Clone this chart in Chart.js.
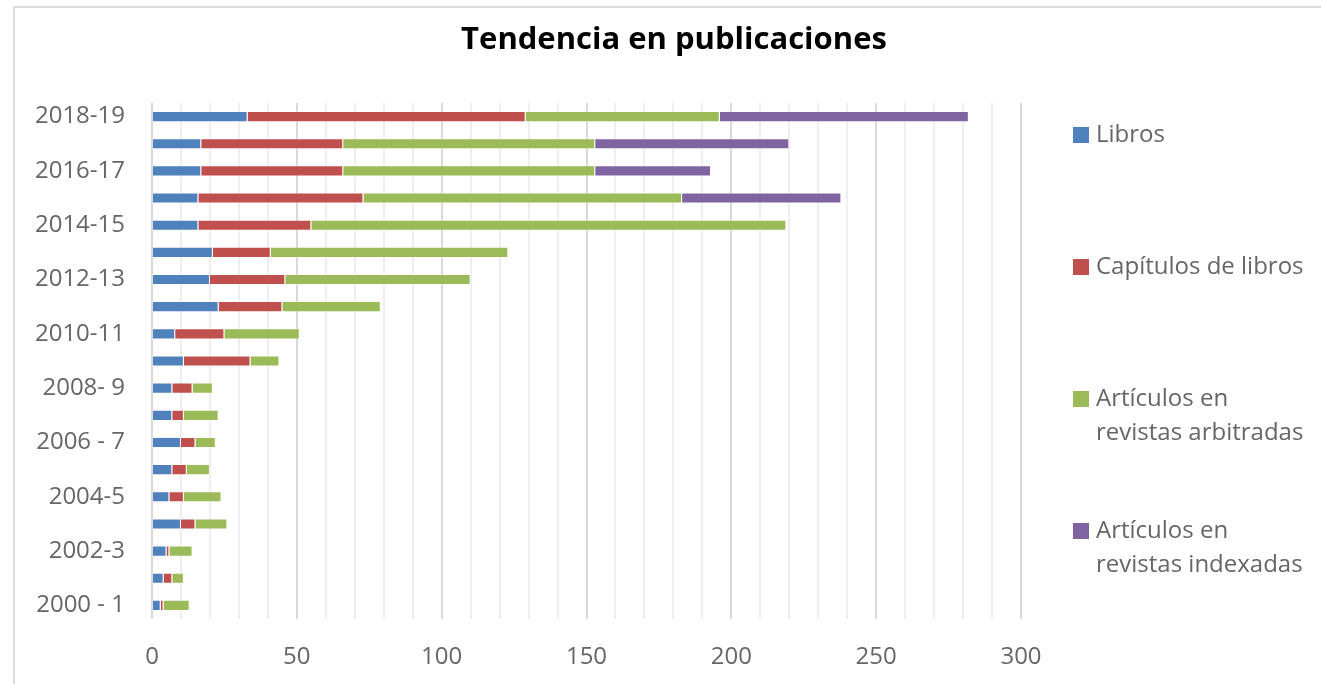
<!DOCTYPE html>
<html>
<head>
<meta charset="utf-8">
<script src="https://cdn.jsdelivr.net/npm/chart.js@4"></script>
<style>
body{margin:0;background:#fff;font-family:"Open Sans",sans-serif;}
#caja{position:relative;width:1321px;height:684px;overflow:hidden;}
#marco{position:absolute;left:13px;top:6px;width:1400px;height:800px;border-left:2px solid #dcdcdc;border-top:2px solid #dcdcdc;}
#titulo{position:absolute;left:0;width:1348px;top:16px;text-align:center;font-weight:bold;font-size:31px;color:#000;}
.ley{position:absolute;left:1073px;font-size:24px;color:#666;line-height:34px;}
.ley span{display:inline-block;width:16px;height:16px;margin-right:7px;vertical-align:-1px;}
.ley div{padding-left:23px;}
</style>
</head>
<body>
<div id="caja">
<div id="marco"></div>
<canvas id="grafico" width="1321" height="684"></canvas>
<div id="titulo">Tendencia en publicaciones</div>
<div id="leyenda"></div>
</div>
<script>
// datos, del 2000-1 al 2018-19
const periodos = ["2000 - 1","2001-2","2002-3","2003-4","2004-5","2005-6","2006 - 7","2007-8","2008- 9","2009-10",
  "2010-11","2011-12","2012-13","2013-14","2014-15","2015-16","2016-17","2017-18","2018-19"];

const libros = [3,4,5,10,6,7,10,7,7,11,8,23,20,21,16,16,17,17,33];
const capitulos = [1,3,1,5,5,5,5,4,7,23,17,22,26,20,39,57,49,49,96];
const arbitradas = [9,4,8,11,13,8,7,12,7,10,26,34,64,82,164,110,87,87,67];
const indexadas = [0,0,0,0,0,0,0,0,0,0,0,0,0,0,0,55,40,67,86];

const ticksX = [0,50,100,150,200,250,300];

const series = [
  {label:"Libros", data:libros, color:"#4F81BD"},
  {label:"Capítulos de libros", data:capitulos, color:"#C0504D"},
  {label:"Artículos en revistas arbitradas", data:arbitradas, color:"#9BBB59"},
  {label:"Artículos en revistas indexadas", data:indexadas, color:"#8064A2"}
];

// leyenda a mano (el texto va en dos lineas)
const posLeyenda = [116, 248, 380, 512];
const textoLeyenda = [["Libros"],["Capítulos de libros"],["Artículos en","revistas arbitradas"],["Artículos en","revistas indexadas"]];
let html = "";
series.forEach((s,i)=>{
  html += '<div class="ley" style="top:'+posLeyenda[i]+'px"><span style="background:'+s.color+'"></span>'+textoLeyenda[i][0];
  if(textoLeyenda[i][1]) html += '<div>'+textoLeyenda[i][1]+'</div>';
  html += '</div>';
});
document.getElementById("leyenda").innerHTML = html;

Chart.defaults.font.family = "'Open Sans', sans-serif";
Chart.defaults.color = "#666";

new Chart(document.getElementById("grafico"), {
  type:"bar",
  data:{
    labels:periodos,
    datasets:series.map(s=>({
      label:s.label,
      data:s.data,
      backgroundColor:s.color,
      borderColor:"rgba(255,255,255,0.45)",
      borderWidth:1,
      barPercentage:1,
      categoryPercentage:0.41
    }))
  },
  options:{
    indexAxis:"y",
    responsive:false,
    animation:false,
    layout:{padding:{top:103,right:300,bottom:0,left:0}},
    plugins:{legend:{display:false}, tooltip:{enabled:false}, title:{display:false}},
    scales:{
      x:{
        stacked:true,
        min:0, max:300,
        afterFit:sc=>{ sc.height = 65; },
        border:{display:false},
        grid:{
          drawTicks:false,
          color:c=>(c.tick && c.tick.value % 50 === 0) ? "#d9d9d9" : "#eeeeee",
          lineWidth:2
        },
        ticks:{
          stepSize:10,
          padding:24,
          autoSkip:false,
          maxRotation:0,
          font:{size:24},
          callback:v=>ticksX.includes(v) ? v : ""
        }
      },
      y:{
        stacked:true,
        reverse:true,
        afterFit:sc=>{ sc.width = 152; },
        border:{display:false},
        grid:{display:false, drawTicks:false},
        ticks:{
          autoSkip:false,
          padding:27,
          font:{size:24},
          callback:(v,i)=> i % 2 === 0 ? periodos[i] : ""
        }
      }
    }
  }
});
</script>
</body>
</html>
